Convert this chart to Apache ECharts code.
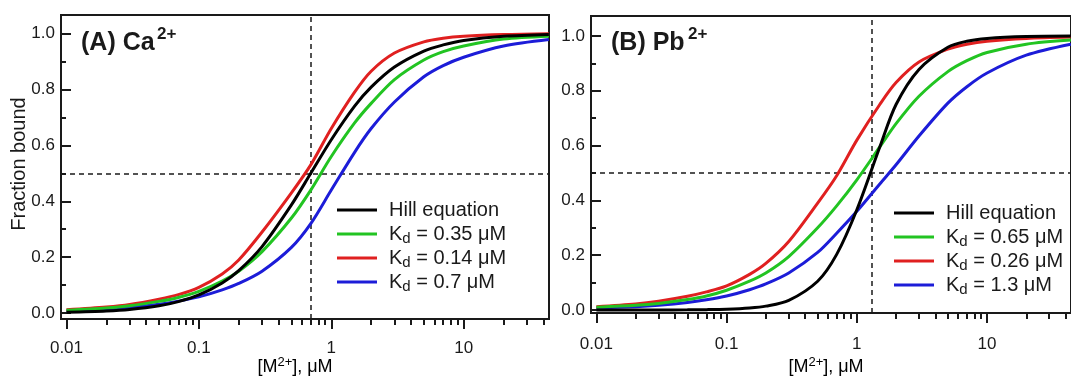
<!DOCTYPE html>
<html><head><meta charset="utf-8">
<script src="https://cdn.jsdelivr.net/npm/echarts@6/dist/echarts.min.js"></script>
<style>html,body{margin:0;padding:0;background:#fff}#c{width:1071px;height:377px}</style>
</head><body><div id="c"></div>
<script>
// ---- data ----
const conc = [0.01,0.02,0.03,0.05,0.07,0.1,0.15,0.2,0.3,0.5,0.7,1,1.5,2,3,5,7,10,20,44];

// Panel A: Ca2+
const caHill   = [0.003,0.0076,0.013,0.026,0.041,0.065,0.108,0.152,0.238,0.387,0.5,0.62,0.74,0.808,0.88,0.937,0.959,0.975,0.99,0.9966];
const caKd035  = [0.010,0.018,0.026,0.042,0.056,0.078,0.115,0.15,0.22,0.34,0.44,0.56,0.68,0.75,0.835,0.905,0.935,0.955,0.98,0.99];
const caKd014  = [0.012,0.022,0.031,0.050,0.066,0.092,0.14,0.19,0.29,0.43,0.53,0.66,0.79,0.865,0.93,0.97,0.983,0.99,0.996,0.999];
const caKd07   = [0.008,0.014,0.020,0.032,0.043,0.058,0.083,0.106,0.15,0.235,0.32,0.44,0.575,0.66,0.755,0.845,0.885,0.915,0.955,0.978];

// Panel B: Pb2+
const pbHill   = [0.0,0.0001,0.0002,0.0006,0.0013,0.0029,0.0073,0.014,0.035,0.105,0.203,0.366,0.595,0.75,0.878,0.959,0.981,0.991,0.998,0.9997];
const pbKd065  = [0.010,0.017,0.024,0.038,0.051,0.072,0.105,0.135,0.195,0.30,0.38,0.475,0.595,0.68,0.78,0.87,0.91,0.94,0.97,0.985];
const pbKd026  = [0.012,0.022,0.032,0.050,0.066,0.088,0.13,0.17,0.25,0.39,0.49,0.62,0.75,0.83,0.905,0.952,0.97,0.981,0.991,0.996];
const pbKd13   = [0.007,0.012,0.017,0.027,0.037,0.051,0.074,0.095,0.135,0.21,0.28,0.36,0.46,0.53,0.635,0.755,0.815,0.865,0.93,0.97];

const legendA = ['Hill equation','K{d|d} = 0.35 μM','K{d|d} = 0.14 μM','K{d|d} = 0.7 μM'];
const legendB = ['Hill equation','K{d|d} = 0.65 μM','K{d|d} = 0.26 μM','K{d|d} = 1.3 μM'];
const markA = {x: 0.7, y: 0.5};
const markB = {x: 1.3, y: 0.5};

const xMajorTicks = [0.01,0.1,1,10];
const xTickLabels = ['0.01','0.1','1','10'];
const xMinorTicks = [0.02,0.03,0.04,0.05,0.06,0.07,0.08,0.09,0.2,0.3,0.4,0.5,0.6,0.7,0.8,0.9,2,3,4,5,6,7,8,9,20,30,40];
const yMajorTicks = [0,0.2,0.4,0.6,0.8,1.0];
const yMinorTicks = [0.1,0.3,0.5,0.7,0.9];

// ---- chart ----
const FONT = '"Liberation Sans", Arial, Helvetica, sans-serif';
const INK = '#1a1a1a';
const COLORS = ['#000000','#22c422','#e02020','#1c1cd8'];
const xMin = 0.00909, xMax = 44.1;

function xAxesFor(grid, margin) {
  return [
    {type:'log', logBase:10, gridIndex:grid, min:xMin, max:xMax, position:'bottom',
     axisLine:{show:true, onZero:false, lineStyle:{color:INK, width:2}},
     axisTick:{show:true, inside:false, length:10, customValues:xMajorTicks, lineStyle:{color:INK, width:2}},
     axisLabel:{show:true, customValues:xMajorTicks, margin:margin, color:INK, fontSize:17, fontFamily:FONT,
       formatter:function(v){ let best=0; xMajorTicks.forEach((t,i)=>{ if(Math.abs(Math.log10(t)-Math.log10(v))<Math.abs(Math.log10(xMajorTicks[best])-Math.log10(v))) best=i;}); return xTickLabels[best]; }},
     splitLine:{show:false}, minorTick:{show:false}},
    {type:'log', logBase:10, gridIndex:grid, min:xMin, max:xMax, position:'bottom',
     axisLine:{show:false, onZero:false},
     axisTick:{show:true, inside:false, length:6, customValues:xMinorTicks, lineStyle:{color:INK, width:2}},
     axisLabel:{show:false}, splitLine:{show:false}, minorTick:{show:false}}
  ];
}
function yAxesFor(grid, min, max) {
  return [
    {type:'value', gridIndex:grid, min:min, max:max, position:'left',
     axisLine:{show:true, onZero:false, lineStyle:{color:INK, width:2}},
     axisTick:{show:true, inside:true, length:10, customValues:yMajorTicks, lineStyle:{color:INK, width:2}},
     axisLabel:{show:true, customValues:yMajorTicks, margin:6, color:INK, fontSize:17, fontFamily:FONT,
       formatter:function(v){ return (+v).toFixed(1); }},
     splitLine:{show:false}},
    {type:'value', gridIndex:grid, min:min, max:max, position:'left',
     axisLine:{show:false, onZero:false},
     axisTick:{show:true, inside:true, length:5, customValues:yMinorTicks, lineStyle:{color:INK, width:2}},
     axisLabel:{show:false}, splitLine:{show:false}}
  ];
}
function pairs(arr){ return conc.map((c,i)=>[c, arr[i]]); }
function makeSeries(prefix, names, arrays, xi, yi, mark) {
  const order = [3,2,1,0];
  return order.map(k => {
    const s = {
      type:'line', name: prefix + names[k], xAxisIndex:xi, yAxisIndex:yi,
      data: pairs(arrays[k]), smooth:0.3, showSymbol:false, symbol:'none',
      color: COLORS[k], lineStyle:{color:COLORS[k], width:3}, z: 3 + (k===0?1:0),
      silent:true, clip:true
    };
    if (k === 3) {
      s.markLine = {silent:true, symbol:'none', animation:false, z:2,
        lineStyle:{color:INK, width:1.5, type:[5,4]}, label:{show:false},
        data:[{xAxis:mark.x},{yAxis:mark.y}]};
    }
    return s;
  });
}
const legendRich = {
  d:{fontSize:15, lineHeight:15, verticalAlign:'bottom', fontFamily:FONT, color:INK}
};
function legendFor(prefix, names, left, top) {
  return {
    show:true, orient:'vertical', left:left, top:top, padding:0, itemGap:0,
    itemWidth:40, itemHeight:3, icon:'rect',
    data: names.map(n => prefix + n),
    formatter: function(n){ return n.slice(prefix.length); },
    selectedMode:false,
    textStyle:{fontSize:20, lineHeight:24, fontFamily:FONT, color:INK, padding:[0,0,0,7], rich:legendRich}
  };
}

const option = {
  animation:false,
  backgroundColor:'#ffffff',
  grid:[
    {left:61, top:15, width:488, height:304, show:true, borderColor:INK, borderWidth:2, containLabel:false},
    {left:591, top:16, width:489, height:297, show:true, borderColor:INK, borderWidth:2, containLabel:false}
  ],
  xAxis: xAxesFor(0, 21).concat(xAxesFor(1, 23)),
  yAxis: yAxesFor(0, -0.021, 1.066).concat(yAxesFor(1, -0.011, 1.073)),
  legend:[ legendFor('A|', legendA, 337, 198), legendFor('B|', legendB, 894, 201) ],
  series: makeSeries('A|', legendA, [caHill, caKd035, caKd014, caKd07], 0, 0, markA)
    .concat(makeSeries('B|', legendB, [pbHill, pbKd065, pbKd026, pbKd13], 2, 2, markB)),
  graphic:[
    {type:'text', left:81, top:31, style:{text:'(A) Ca', fontSize:25, fontWeight:'bold', fontFamily:FONT, fill:INK}},
    {type:'text', left:157, top:26, style:{text:'2+', fontSize:17, fontWeight:'bold', fontFamily:FONT, fill:INK}},
    {type:'text', left:611, top:31, style:{text:'(B) Pb', fontSize:25, fontWeight:'bold', fontFamily:FONT, fill:INK}},
    {type:'text', left:688, top:26, style:{text:'2+', fontSize:17, fontWeight:'bold', fontFamily:FONT, fill:INK}},
    {type:'text', x:295, y:367, style:{text:'{m|[M}{s|2+}{m|], μM}', align:'center', verticalAlign:'middle',
      rich:{m:{fontSize:18, lineHeight:22, fontFamily:FONT, color:INK}, s:{fontSize:13, lineHeight:13, verticalAlign:'top', fontFamily:FONT, color:INK}}}},
    {type:'text', x:826, y:367, style:{text:'{m|[M}{s|2+}{m|], μM}', align:'center', verticalAlign:'middle',
      rich:{m:{fontSize:18, lineHeight:22, fontFamily:FONT, color:INK}, s:{fontSize:13, lineHeight:13, verticalAlign:'top', fontFamily:FONT, color:INK}}}},
    {type:'text', x:19, y:164, rotation:Math.PI/2, style:{text:'Fraction bound', fontSize:20, fontFamily:FONT, fill:INK, align:'center', verticalAlign:'middle'}}
  ]
};
const chart = echarts.init(document.getElementById('c'), null, {renderer:'canvas'});
chart.setOption(option);
</script>
</body></html>
